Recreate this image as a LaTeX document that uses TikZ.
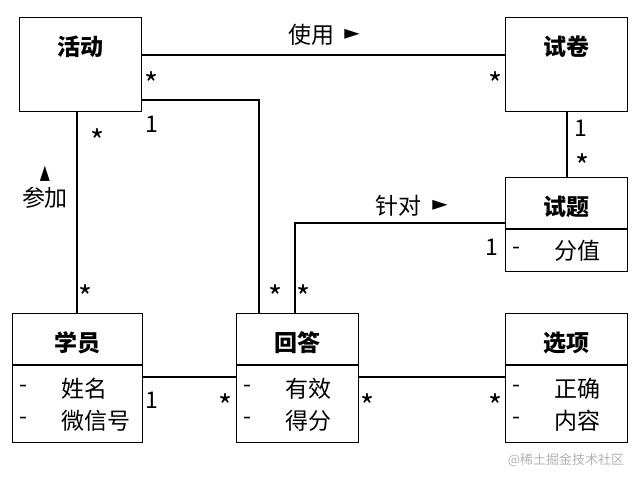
\documentclass[tikz,border=0pt]{standalone}
\usepackage{fontspec}
\setmainfont{Noto Sans CJK SC}
\newfontfamily\symfont{DejaVu Sans}
\usetikzlibrary{calc}

\begin{document}
\begin{tikzpicture}[x=1pt, y=-1pt, line width=1.2pt,
    every node/.style={inner sep=0pt, font=\fontsize{23}{26}\selectfont},
    box/.style={draw, anchor=north west, minimum width=122pt, minimum height=#1},
    title/.style={font=\fontsize{23}{26}\selectfont\bfseries},
    mult/.style={anchor=base},
    many/.style={anchor=base, font=\fontsize{30}{32}\selectfont},
    arrowsym/.style={font=\fontsize{20}{22}\selectfont\symfont}]
    \useasboundingbox (0,0) rectangle (641,481);

    % classes
    \node[box=94pt] (huodong) at (19,17) {};
    \node[box=94pt] (shijuan) at (505,17) {};
    \node[box=94pt] (shiti) at (505,177) {};
    \node[box=129pt, minimum width=130pt] (xueyuan) at (12,313) {};
    \node[box=129pt] (huida) at (236,313) {};
    \node[box=129pt] (xuanxiang) at (505,313) {};
    \foreach \b in {shiti,xueyuan,huida,xuanxiang} {
        \draw ($(\b.north west)+(0,52)$) -- ($(\b.north east)+(0,52)$);
    }
    \foreach \b/\t in {huodong/活动, shijuan/试卷, shiti/试题, xueyuan/学员, huida/回答, xuanxiang/选项} {
        \node[title] (t-\b) at ($(\b.north)+(0,30)$) {\t};
    }
    \foreach \b/\n/\r/\t in {shiti/1/74/分值, xueyuan/1/76/姓名, xueyuan/2/108/微信号,
            huida/1/76/有效, huida/2/108/得分, xuanxiang/1/76/正确, xuanxiang/2/108/内容} {
        \node (d-\b\n) at ($(\b.north west)+(11,\r)$) {-};
        \node[anchor=west] (a-\b\n) at ($(\b.north west)+(49,\r)$) {\t};
    }

    % associations
    \draw ($(huodong.north east)+(0,38)$) -- ($(shijuan.north west)+(0,38)$);
    \draw ($(huodong.north east)+(0,83)$) -| ($(huida.north west)+(23,0)$);
    \draw ($(huodong.south west)+(58,0)$) coordinate (p) -- (p |- xueyuan.north);
    \draw ($(shijuan.south west)+(62,0)$) coordinate (q) -- (q |- shiti.north);
    \draw ($(shiti.north west)+(0,46)$) -| ($(huida.north west)+(59,0)$);
    \draw ($(xueyuan.north east)+(0,64)$) -- ($(huida.north west)+(0,64)$);
    \draw ($(huida.north east)+(0,64)$) -- ($(xuanxiang.north west)+(0,64)$);

    % multiplicities
    \foreach \n/\x/\y in {2/152/133, 5/581/137, 7/492/256, 11/152/409} {
        \node[mult] (m\n) at (\x,\y) {1};
    }
    \foreach \n/\x/\y in {1/152/96, 3/98/153, 4/496/96, 6/583/178, 8/86/309,
            9/276/309, 10/304/309, 12/226/418, 13/368/418, 14/496/418} {
        \node[many] (m\n) at (\x,\y) {*};
    }

    % association names
    \node[anchor=west] (shiyong) at (288,35) {使用};
    \node[arrowsym] (dir-shiyong) at (352,34) {►};
    \node[anchor=west] (zhendui) at (375,206) {针对};
    \node[arrowsym] (dir-zhendui) at (440,205) {►};
    \node (canjia) at (45,198) {参加};
    \node[arrowsym, rotate=90] (dir-canjia) at (45,174) {►};

    \node[font=\fontsize{13}{15}\selectfont, text=black!30] (wm) at (566,460) {@稀土掘金技术社区};
\end{tikzpicture}
\end{document}
